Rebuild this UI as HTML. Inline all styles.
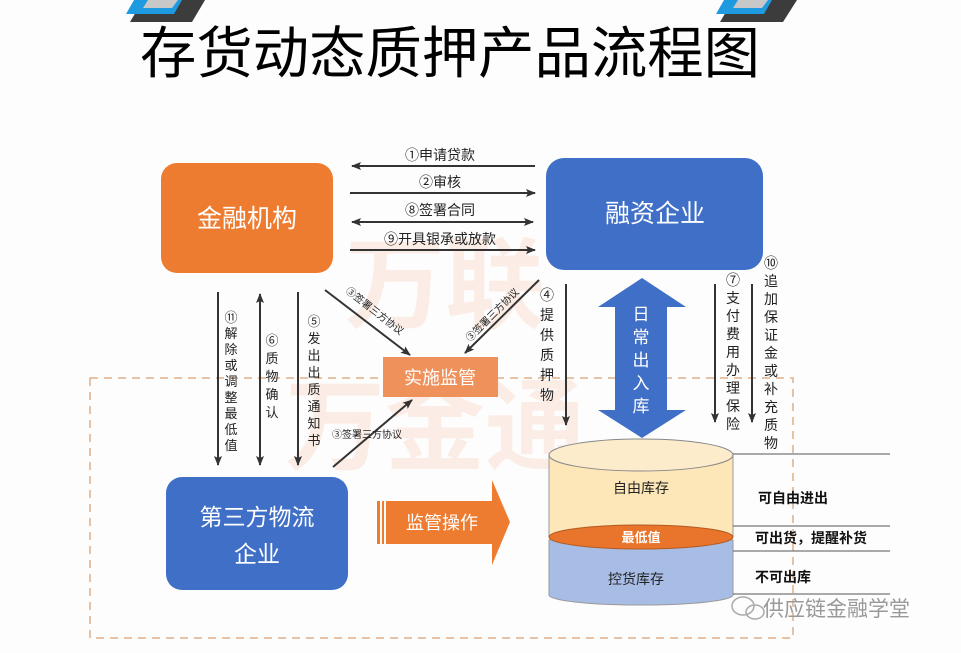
<!DOCTYPE html>
<html><head><meta charset="utf-8">
<style>
html,body{margin:0;padding:0;background:#fff;}
svg{display:block;}
text{font-family:"Liberation Sans","Noto Sans CJK SC",sans-serif;}
</style></head>
<body>
<svg width="961" height="653" viewBox="0 0 961 653" xmlns="http://www.w3.org/2000/svg">
<defs>
<marker id="ah" markerWidth="10" markerHeight="8" refX="9" refY="4" orient="auto" markerUnits="userSpaceOnUse">
<path d="M0,0 L10,4 L0,8 L2,4 Z" fill="#333"/></marker>
<marker id="as" markerWidth="10" markerHeight="8" refX="1" refY="4" orient="auto" markerUnits="userSpaceOnUse">
<path d="M10,0 L0,4 L10,8 L8,4 Z" fill="#333"/></marker>
</defs>
<rect width="961" height="653" fill="#fdfdfd"/>
<!-- decorations -->
<polygon points="143,0 205,0 192,22 130,22" fill="#3c3c3c"/>
<polygon points="134,0 182,0 174,14 126,14" fill="#1e9be0"/>
<polygon points="148,0 178,0 172,8 143,8" fill="#c8c8c8"/>
<polygon points="733,0 797,0 783,22 720,22" fill="#3c3c3c"/>
<polygon points="724,0 772,0 764,14 716,14" fill="#1e9be0"/>
<polygon points="738,0 768,0 762,8 733,8" fill="#c8c8c8"/>
<!-- title -->
<text x="450" y="73" font-size="56" text-anchor="middle" fill="#000" textLength="620" lengthAdjust="spacingAndGlyphs">存货动态质押产品流程图</text>
<!-- watermark -->
<text x="345" y="320" font-size="100" fill="#f4a070" opacity="0.16" font-weight="bold">万联</text>
<text x="285" y="462" font-size="100" fill="#f4a070" opacity="0.16" font-weight="bold">万金通</text>
<!-- dashed box -->
<rect x="90" y="378" width="703" height="260" fill="none" stroke="#e0b08a" stroke-width="1.5" stroke-dasharray="8,6"/>
<!-- boxes -->
<rect x="161" y="163" width="172" height="110" rx="16" fill="#ee7c30"/>
<text x="247" y="227" font-size="25" fill="#fff" text-anchor="middle">金融机构</text>
<rect x="546" y="158" width="217" height="112" rx="18" fill="#3f6fc7"/>
<text x="655" y="222" font-size="25" fill="#fff" text-anchor="middle">融资企业</text>
<!-- horizontal arrows -->
<g stroke="#333" stroke-width="2">
<line x1="535" y1="166" x2="352" y2="166" marker-end="url(#ah)"/>
<line x1="350" y1="193" x2="535" y2="193" marker-end="url(#ah)"/>
<line x1="352" y1="222" x2="533" y2="222" marker-end="url(#ah)" marker-start="url(#as)"/>
<line x1="350" y1="250" x2="535" y2="250" marker-end="url(#ah)"/>
</g>
<g font-size="14" fill="#222" text-anchor="middle">
<text x="440" y="160">①申请贷款</text>
<text x="440" y="187">②审核</text>
<text x="440" y="215">⑧签署合同</text>
<text x="440" y="244">⑨开具银承或放款</text>
</g>
<!-- vertical arrows -->
<g stroke="#333" stroke-width="2">
<line x1="218" y1="292" x2="218" y2="465" marker-end="url(#ah)"/>
<line x1="260" y1="294" x2="260" y2="465" marker-end="url(#ah)" marker-start="url(#as)"/>
<line x1="298" y1="292" x2="298" y2="465" marker-end="url(#ah)"/>
<line x1="325" y1="290" x2="410" y2="355" marker-end="url(#ah)"/>
<line x1="539" y1="280" x2="465" y2="353" marker-end="url(#ah)"/>
<line x1="333" y1="467" x2="412" y2="400" marker-end="url(#ah)"/>
<line x1="566" y1="284" x2="566" y2="425" marker-end="url(#ah)"/>
<line x1="715" y1="284" x2="715" y2="422" marker-end="url(#ah)"/>
<line x1="752" y1="284" x2="752" y2="422" marker-end="url(#ah)"/>
</g>
<g font-size="13" fill="#222" text-anchor="middle">
<text x="231" y="322">⑪</text><text x="231" y="338">解</text><text x="231" y="354">除</text><text x="231" y="370">或</text><text x="231" y="386">调</text><text x="231" y="402">整</text><text x="231" y="418">最</text><text x="231" y="434">低</text><text x="231" y="450">值</text>
<text x="272" y="345">⑥</text><text x="272" y="363">质</text><text x="272" y="381">物</text><text x="272" y="399">确</text><text x="272" y="417">认</text>
<text x="314" y="326">⑤</text><text x="314" y="343">发</text><text x="314" y="360">出</text><text x="314" y="377">出</text><text x="314" y="394">质</text><text x="314" y="411">通</text><text x="314" y="428">知</text><text x="314" y="445">书</text>
</g>
<g font-size="14" fill="#222" text-anchor="middle">
<text x="547" y="300">④</text><text x="547" y="320">提</text><text x="547" y="340">供</text><text x="547" y="360">质</text><text x="547" y="380">押</text><text x="547" y="400">物</text>
<text x="733" y="285">⑦</text><text x="733" y="303">支</text><text x="733" y="321">付</text><text x="733" y="339">费</text><text x="733" y="357">用</text><text x="733" y="375">办</text><text x="733" y="393">理</text><text x="733" y="411">保</text><text x="733" y="429">险</text>
<text x="771" y="268">⑩</text><text x="771" y="286">追</text><text x="771" y="304">加</text><text x="771" y="322">保</text><text x="771" y="340">证</text><text x="771" y="358">金</text><text x="771" y="376">或</text><text x="771" y="394">补</text><text x="771" y="412">充</text><text x="771" y="430">质</text><text x="771" y="448">物</text>
</g>
<g font-size="10" fill="#222">
<text transform="translate(345,292) rotate(38)">③签署三方协议</text>
<text transform="translate(470,342) rotate(-45)">③签署三方协议</text>
<text x="332" y="438">③签署三方协议</text>
</g>
<!-- 实施监管 -->
<rect x="383" y="357" width="115" height="40" fill="#ef915a"/>
<text x="440" y="384" font-size="18" fill="#fff" text-anchor="middle">实施监管</text>
<!-- big double arrow -->
<polygon points="642,278 686,307 667,307 667,410 686,410 642,438 598,410 615,410 615,307 598,307" fill="#3f6fc7"/>
<g font-size="17" fill="#fff" text-anchor="middle">
<text x="641" y="320">日</text><text x="641" y="343">常</text><text x="641" y="366">出</text><text x="641" y="389">入</text><text x="641" y="412">库</text>
</g>
<!-- cylinder -->
<path d="M549,540 L549,595 A92,10 0 0 0 733,595 L733,540 Z" fill="#a8bde6" stroke="#999" stroke-width="1"/>
<path d="M549,455 L549,537 L733,537 L733,455 Z" fill="#fde6b8"/>
<line x1="549" y1="455" x2="549" y2="537" stroke="#999"/>
<line x1="733" y1="455" x2="733" y2="537" stroke="#999"/>
<ellipse cx="641" cy="455" rx="92" ry="16" fill="#fdeccb" stroke="#888"/>
<ellipse cx="641" cy="537" rx="92" ry="12" fill="#e9742c" stroke="#b35a20"/>
<text x="641" y="542" font-size="13" fill="#fff" text-anchor="middle" font-weight="bold">最低值</text>
<text x="641" y="493" font-size="14" fill="#222" text-anchor="middle">自由库存</text>
<text x="636" y="584" font-size="14" fill="#222" text-anchor="middle">控货库存</text>
<g stroke="#555" stroke-width="1">
<line x1="733" y1="454" x2="890" y2="454"/>
<line x1="733" y1="526" x2="890" y2="526"/>
<line x1="733" y1="551" x2="890" y2="551"/>
<line x1="733" y1="594" x2="890" y2="594"/>
</g>
<g font-size="14" fill="#111" font-weight="bold">
<text x="758" y="503">可自由进出</text>
<text x="755" y="543">可出货，提醒补货</text>
<text x="755" y="582">不可出库</text>
</g>
<!-- 3PL box -->
<rect x="166" y="477" width="182" height="113" rx="16" fill="#3f6fc7"/>
<text x="257" y="525" font-size="23" fill="#fff" text-anchor="middle">第三方物流</text>
<text x="257" y="562" font-size="23" fill="#fff" text-anchor="middle">企业</text>
<!-- orange arrow -->
<rect x="377" y="501" width="3" height="43" fill="#ee7c30"/>
<rect x="382" y="501" width="2" height="43" fill="#ee7c30"/>
<polygon points="386,501 492,501 492,480 510,522 492,565 492,544 386,544" fill="#ee7c30"/>
<text x="442" y="529" font-size="18" fill="#fff" text-anchor="middle">监管操作</text>
<!-- footer watermark -->
<g stroke="#aaa" fill="none" stroke-width="1.5">
<ellipse cx="743" cy="606" rx="11" ry="9"/>
<ellipse cx="755" cy="612" rx="9" ry="7"/>
</g>
<text x="763" y="616" font-size="21" fill="#999">供应链金融学堂</text>
</svg>
</body></html>
